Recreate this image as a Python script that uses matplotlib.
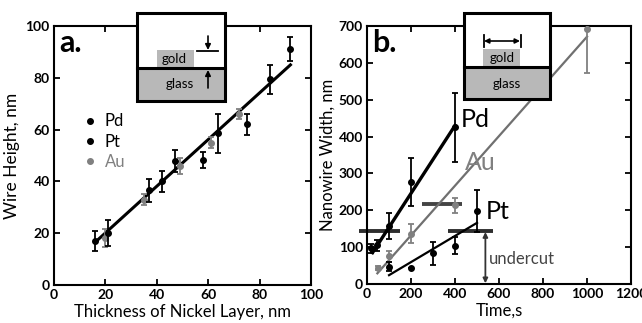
import matplotlib.pyplot as plt
from matplotlib.patches import Rectangle
from matplotlib.lines import Line2D

plt.rcParams['font.family'] = ['Lato', 'DejaVu Sans']

# ---- panel a: wire height vs nickel thickness ----
pdpt_thick = [16, 21, 37, 42, 47, 58, 64, 75, 84, 92]
pdpt_height = [17, 20, 36.5, 40, 48, 48.3, 58.5, 62, 79.4, 91]
pdpt_err = [4, 5, 4.5, 4, 4.2, 3, 7.5, 4, 5.5, 4.7]
au_thick = [20, 35, 49, 61, 72]
au_height = [18, 33, 46, 55, 66]
au_err = [3.5, 2, 3, 2, 2]
fit_a_x = [16, 92]
fit_a_y = [16.5, 85]

# ---- panel b: nanowire width vs time ----
pd_time = [20, 45, 100, 200, 400]
pd_width = [97, 105, 157, 277, 425]
pd_err = [12, 15, 36, 65, 93]
pd_fit_x = [25, 400]
pd_fit_y = [85, 430]

au_time = [50, 100, 200, 400, 1000]
au_width = [44, 75, 137, 214, 692]
au_werr = [5, 15, 27, 20, 120]
au_fit_x = [47, 1000]
au_fit_y = [29, 671]

pt_time = [100, 200, 300, 400, 500]
pt_width = [47, 44, 83, 104, 197]
pt_err = [13, 0, 32, 23, 57]
pt_fit_x = [100, 500]
pt_fit_y = [24, 166]

# horizontal reference bars (y, x start, x end)
bar_y = [144, 144, 217]
bar_x0 = [-37, 367, 250]
bar_x1 = [151, 574, 432]
bar_col = ['#2e2e2e', '#2e2e2e', '#444444']

GRAY = '#808080'

fig = plt.figure(figsize=(6.42, 3.23), dpi=100)
ax1 = fig.add_axes([0.0841, 0.1176, 0.4003, 0.8019])
ax2 = fig.add_axes([0.5717, 0.1207, 0.4112, 0.7988])

for ax in (ax1, ax2):
    for s in ax.spines.values():
        s.set_linewidth(1.5)
    ax.tick_params(direction='in', top=True, right=True, length=4, width=1.3,
                   labelsize=10, pad=3)

# panel a
ax1.plot(fit_a_x, fit_a_y, color='black', lw=2.2, zorder=3)
ax1.errorbar(au_thick, au_height, yerr=au_err, fmt='o', color=GRAY, ms=4,
             capsize=2, elinewidth=1.3, capthick=1.3, zorder=4)
ax1.errorbar(pdpt_thick, pdpt_height, yerr=pdpt_err, fmt='o', color='black', ms=4,
             capsize=2, elinewidth=1.3, capthick=1.3, zorder=5)
ax1.set_xlim(0, 100)
ax1.set_ylim(0, 100)
ax1.set_xticks(range(0, 101, 20))
ax1.set_yticks(range(0, 101, 20))
for lab in ax1.get_xticklabels() + ax1.get_yticklabels():
    lab.set_fontweight('bold')
ax1.set_xlabel('Thickness of Nickel Layer, nm', fontsize=12, labelpad=2)
ax1.set_ylabel('Wire Height, nm', fontsize=12.5, labelpad=4)
ax1.text(0.02, 0.935, 'a.', transform=ax1.transAxes, fontsize=22,
         fontweight='bold', va='center', ha='left')

handles = [Line2D([], [], marker='o', ls='none', color=c, ms=4)
           for c in ['black', 'black', GRAY]]
ax1.legend(handles, ['Pd', 'Pt', 'Au'], loc='upper left',
           bbox_to_anchor=(0.075, 0.695), frameon=False, fontsize=12,
           handlelength=1, handletextpad=0.4, labelspacing=0.25, borderpad=0,
           labelcolor=['black', 'black', GRAY])

# panel b
for y, x0, x1, c in zip(bar_y, bar_x0, bar_x1, bar_col):
    ax2.plot([x0, x1], [y, y], color=c, lw=2.8, solid_capstyle='butt',
             clip_on=False, zorder=2)
ax2.plot(au_fit_x, au_fit_y, color='#707070', lw=1.6, zorder=3)
ax2.plot(pd_fit_x, pd_fit_y, color='black', lw=2.4, zorder=3)
ax2.plot(pt_fit_x, pt_fit_y, color='black', lw=1.6, zorder=3)
ax2.errorbar(au_time, au_width, yerr=au_werr, fmt='o', color=GRAY, ms=4,
             capsize=2, elinewidth=1.3, capthick=1.3, zorder=4)
ax2.errorbar(pd_time, pd_width, yerr=pd_err, fmt='o', color='black', ms=4,
             capsize=2, elinewidth=1.3, capthick=1.3, zorder=5)
ax2.errorbar(pt_time, pt_width, yerr=pt_err, fmt='o', color='black', ms=4,
             capsize=2, elinewidth=1.3, capthick=1.3, zorder=5)
ax2.set_xlim(0, 1200)
ax2.set_ylim(0, 700)
ax2.set_xticks(range(0, 1201, 200))
ax2.set_yticks(range(0, 701, 100))
for lab in ax2.get_xticklabels() + ax2.get_yticklabels():
    lab.set_fontweight('bold')
ax2.set_xlabel('Time,s', fontsize=12, labelpad=2)
ax2.set_ylabel('Nanowire Width, nm', fontsize=12, labelpad=2)
ax2.text(0.02, 0.935, 'b.', transform=ax2.transAxes, fontsize=22,
         fontweight='bold', va='center', ha='left')
ax2.text(428, 445, 'Pd', fontsize=18, va='center', ha='left')
ax2.text(443, 331, 'Au', fontsize=18, va='center', ha='left', color=GRAY)
ax2.text(538, 196, 'Pt', fontsize=18, va='center', ha='left')
ax2.annotate('', xy=(538, 2), xytext=(538, 141),
             arrowprops=dict(arrowstyle='<|-|>', color='#333333', lw=1.3,
                             mutation_scale=7, shrinkA=0, shrinkB=0))
ax2.text(553, 68, 'undercut', fontsize=12, va='center', ha='left', color='#444444')

# ---- schematic insets (figure pixel coordinates) ----
ov = fig.add_axes([0, 0, 1, 1], zorder=10)
ov.set_xlim(0, 642)
ov.set_ylim(323, 0)
ov.axis('off')
ov.patch.set_alpha(0)

FILL = '#b8b8b8'


def inset(x0, x1, y0, yglass, y1, gx0, gx1, gy0, gold_xy, glass_xy):
    ov.add_patch(Rectangle((x0, y0), x1 - x0, y1 - y0, fc='white', ec='none'))
    ov.add_patch(Rectangle((gx0, gy0), gx1 - gx0, yglass - gy0, fc=FILL, ec='none'))
    ov.add_patch(Rectangle((x0, yglass), x1 - x0, y1 - yglass, fc=FILL, ec='none'))
    ov.add_patch(Rectangle((x0, y0), x1 - x0, y1 - y0, fc='none', ec='black', lw=2.2))
    ov.plot([x0, x1], [yglass, yglass], color='black', lw=2.2)
    ov.text(*gold_xy, 'gold', fontsize=9.5, ha='center', va='center')
    ov.text(*glass_xy, 'glass', fontsize=9.5, ha='center', va='center')


inset(137, 225, 13, 68, 101, 157, 194, 50, (174, 59), (180, 84))
ov.annotate('', xy=(208, 50), xytext=(208, 36),
            arrowprops=dict(arrowstyle='-|>', color='black', lw=1.2,
                            mutation_scale=8, shrinkA=0, shrinkB=0))
ov.plot([197, 218], [51, 51], color='black', lw=1.3)
ov.annotate('', xy=(208, 70), xytext=(208, 88),
            arrowprops=dict(arrowstyle='-|>', color='black', lw=1.2,
                            mutation_scale=8, shrinkA=0, shrinkB=0))

inset(464, 550, 13, 67, 99, 483, 520, 49, (502, 58), (507, 84))
ov.annotate('', xy=(484, 41), xytext=(520, 41),
            arrowprops=dict(arrowstyle='<|-|>', color='black', lw=1.2,
                            mutation_scale=7, shrinkA=0, shrinkB=0))
ov.plot([483.5, 483.5], [35, 47], color='black', lw=1.3)
ov.plot([520.5, 520.5], [35, 47], color='black', lw=1.3)

fig.savefig('out.png', dpi=100)
